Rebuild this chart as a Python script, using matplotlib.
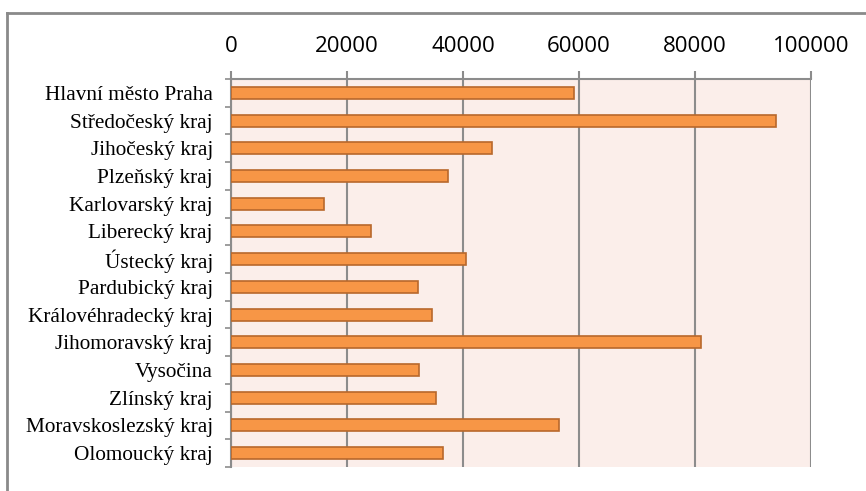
import matplotlib
matplotlib.use("Agg")
import matplotlib.pyplot as plt
from matplotlib.lines import Line2D

regions = ["Hlavní město Praha", "Středočeský kraj", "Jihočeský kraj", "Plzeňský kraj",
           "Karlovarský kraj", "Liberecký kraj", "Ústecký kraj", "Pardubický kraj",
           "Královéhradecký kraj", "Jihomoravský kraj", "Vysočina", "Zlínský kraj",
           "Moravskoslezský kraj", "Olomoucký kraj"]
values = [59200, 94000, 45000, 37400, 16000, 24100, 40600, 32200,
          34700, 81000, 32400, 35300, 56500, 36600]
xticks = [0, 20000, 40000, 60000, 80000, 100000]

fig = plt.figure(figsize=(8.66, 4.91), dpi=100)
ax = fig.add_axes([0.2667, 0.0489, 0.6698, 0.7901])
ax.set_facecolor("#FBEEEA")

n = len(regions)
ypos = list(range(n))
ax.barh(ypos, values, height=0.43, color="#F79646", edgecolor="#B8682C", linewidth=1.2, zorder=3)
ax.set_ylim(n - 0.5, -0.5)
ax.set_xlim(0, 100000)

ax.set_yticks(ypos)
ax.set_yticklabels(regions, family="Liberation Serif", fontsize=15.3)
ax.tick_params(axis="y", which="major", length=0, pad=13)
ax.set_yticks([i - 0.5 for i in range(n + 1)], minor=True)
ax.tick_params(axis="y", which="minor", length=4.3, width=1.2, color="#8C8C8C", direction="out")

ax.xaxis.tick_top()
ax.set_xticks(xticks)
ax.set_xticklabels([str(v) for v in xticks], family="Open Sans", fontsize=16)
ax.tick_params(axis="x", length=5.8, width=1.5, color="#8C8C8C", pad=10)
ax.xaxis.grid(True, color="#8C8C8C", linewidth=1.5, zorder=1)
ax.set_axisbelow(True)

for side in ["bottom", "right"]:
    ax.spines[side].set_visible(False)
for side in ["top", "left"]:
    ax.spines[side].set_color("#8C8C8C")
    ax.spines[side].set_linewidth(1.5)

# outer chart frame (top and left edges)
fig.add_artist(Line2D([7 / 866, 1.0], [1 - 13 / 491, 1 - 13 / 491], transform=fig.transFigure,
                      color="#8A8A8A", linewidth=2))
fig.add_artist(Line2D([7 / 866, 7 / 866], [0, 1 - 13 / 491], transform=fig.transFigure,
                      color="#8A8A8A", linewidth=2))

fig.savefig("out.png", dpi=100)
